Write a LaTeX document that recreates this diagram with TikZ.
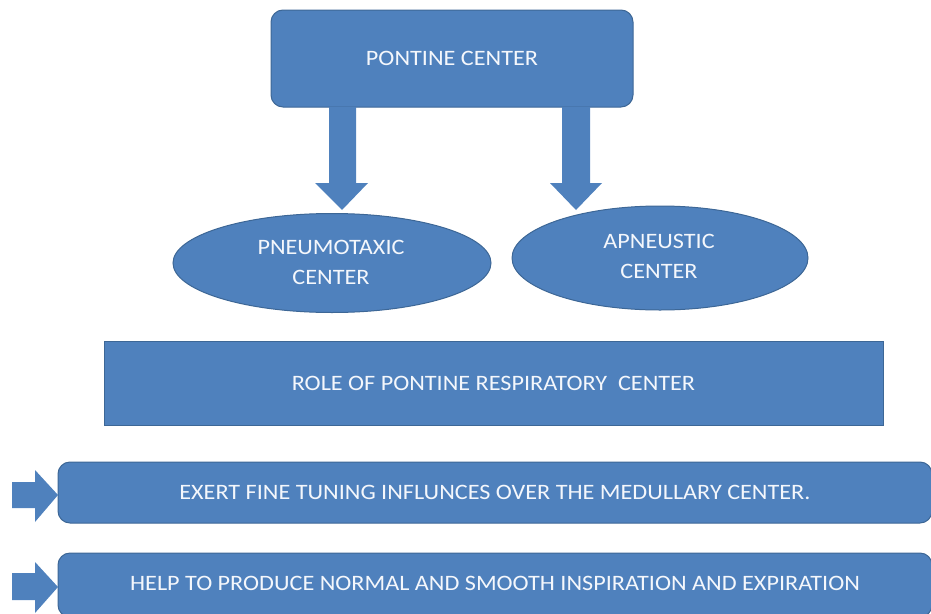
\documentclass[tikz,border=0pt]{standalone}
\usepackage{fontspec}
\setmainfont{Carlito}[FakeStretch=1.1]
\usetikzlibrary{calc,shapes.geometric}
\definecolor{fillblue}{HTML}{4F81BD}
\definecolor{edgeblue}{HTML}{3D6796}
\definecolor{txt}{HTML}{F4F7FC}
\tikzset{
  x=1pt,y=1pt,
  blk/.style={fill=fillblue,draw=edgeblue,line width=1pt,text=txt,font=\fontsize{22}{30}\selectfont,align=center,inner sep=0pt},
  rbox/.style={blk,rounded corners=12pt},
  sbox/.style={blk},
  ell/.style={blk,ellipse},
  lbl/.style={text=txt,font=\fontsize{22}{30}\selectfont,align=center,inner sep=0pt},
  barrow/.style={fill=fillblue,draw=none},
}
\begin{document}
\begin{tikzpicture}
\useasboundingbox (0,0) rectangle (931,-613);
\clip (0,0) rectangle (931,-613);
% top box
\node[rbox,minimum width=362pt,minimum height=97pt] (top) at (452,-58.5) {PONTINE CENTER};
% ellipses
\node[ell,minimum width=318pt,minimum height=99pt] (pneu) at (332,-263) {};
\node[lbl] (pneutxt) at (331,-262) {PNEUMOTAXIC\\CENTER};
\node[ell,minimum width=296pt,minimum height=104pt] (apn) at (660,-258) {};
\node[lbl] (apntxt) at (659,-256) {APNEUSTIC\\CENTER};
% down arrows
\fill[barrow] (329,-107) -- (356,-107) -- (356,-183) -- (368,-183) -- (342,-210) -- (315,-183) -- (329,-183) -- cycle;
\fill[barrow] (562,-107) -- (590,-107) -- (590,-183) -- (602,-183) -- (576,-210) -- (550,-183) -- (562,-183) -- cycle;
% role box
\node[sbox,minimum width=779pt,minimum height=84pt] (role) at (493.5,-383) {ROLE OF PONTINE RESPIRATORY\ \ CENTER};
% bottom boxes
\node[rbox,minimum width=874pt,minimum height=61pt] (b1) at (495,-492.5) {};
\node[lbl] (b1txt) at (495,-492) {EXERT FINE TUNING INFLUNCES OVER THE MEDULLARY CENTER.};
\node[rbox,minimum width=874pt,minimum height=64pt] (b2) at (495,-585) {};
\node[lbl] (b2txt) at (495,-583) {HELP TO PRODUCE NORMAL AND SMOOTH INSPIRATION AND EXPIRATION};
% side arrows
\fill[barrow] (12,-482) -- (35,-482) -- (35,-470) -- (58,-495) -- (35,-522) -- (35,-508) -- (12,-508) -- cycle;
\fill[barrow] (12,-573) -- (35,-573) -- (35,-562) -- (58,-587) -- (35,-613) -- (35,-600) -- (12,-600) -- cycle;
\end{tikzpicture}
\end{document}
